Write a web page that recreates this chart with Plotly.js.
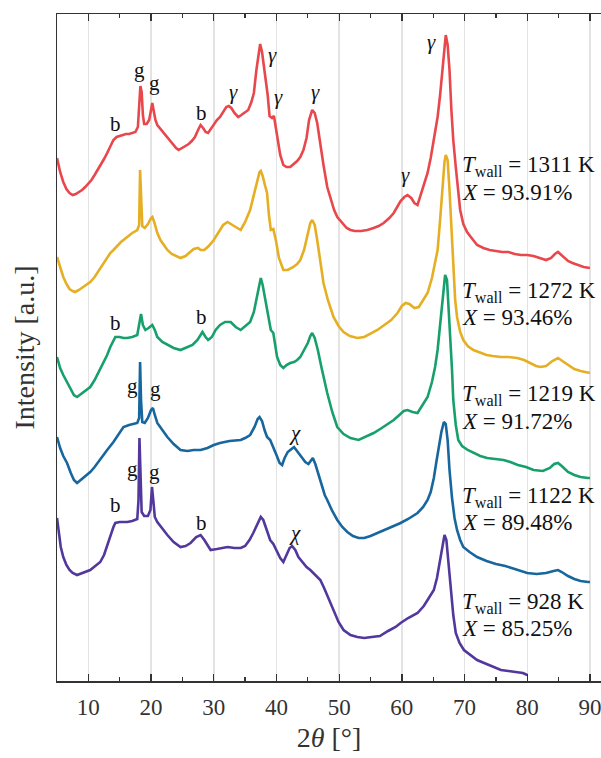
<!DOCTYPE html>
<html>
<head>
<meta charset="utf-8">
<script src="https://cdn.plot.ly/plotly-3.0.1.min.js"></script>
<style>html,body{margin:0;padding:0;background:#fff;}#chart{width:601px;height:758px;}</style>
</head>
<body>
<div id="chart"></div>
<script>
// 2θ positions (degrees) and stacked intensities (a.u., offset as in the figure)
var x1311 = [5,5.5,6,6.5,7,7.5,8,8.5,9,9.5,10,10.5,11,11.5,12,12.5,13,13.5,14,14.5,15,15.5,16,16.5,17,17.5,17.9,18.1,18.3,18.5,18.7,18.9,19.3,19.7,20.0,20.2,20.4,20.7,21,21.5,22,22.5,23,23.5,24,24.4,25,25.5,26,26.5,27,27.5,27.9,28.3,28.7,29.1,29.6,30,30.5,31,31.5,32,32.4,32.8,33.3,33.9,34.4,35,35.5,36,36.4,36.8,37.2,37.4,37.7,38,38.3,38.6,38.9,39.3,39.6,39.9,40.2,40.6,41.1,41.6,42.2,42.8,43.3,43.8,44.3,44.8,45.2,45.7,46.1,46.5,47,47.5,48.1,48.7,49.2,49.7,50.5,51.2,51.8,52.5,53.5,54.5,55.5,56.3,57.1,58,58.7,59.3,59.8,60.4,60.9,61.5,62,62.5,63,63.5,64.1,64.6,65.1,65.7,66.1,66.5,66.8,67,67.3,67.6,67.9,68.2,68.6,69,69.3,69.8,70.4,71,71.4,72,73,74,75,76,77,78,79,80,81,82,83,83.8,84.4,84.9,85.4,86,86.5,87.2,88,89,90];
var y1311 = [523,509,499,492,488,486,487,489,491,494,497,501,506,511,516,522,528,535,541,544,545,546,547,547,548,549,554,576,595,589,566,557,557,561,573,578,571,561,556,552,548,544,540,536,533,531,533,535,537,540,544,551,556,553,549,548,553,557,561,564,569,574,575,573,568,564,566,569,571,579,588,611,631,637,629,616,601,586,565,563,565,553,538,526,516,514,514,517,520,524,531,543,561,571,568,558,536,516,494,481,471,464,458,453,451,450,450,451,453,455,458,463,468,474,480,484,486,483,478,476,486,497,508,523,541,564,586,614,636,646,636,611,571,541,514,486,471,457,449,444,441,436,433,431,430,429,429,427,426,426,425,423,421,423,427,429,426,422,420,418,416,414,413];

var x1272 = [5,5.5,6,6.5,7,7.5,7.9,8.5,9,9.5,10.3,11,11.6,12.4,13,13.5,14,14.6,15.2,16.2,17,17.8,18.1,18.25,18.4,18.6,19,19.5,20,20.2,20.5,21,21.5,22,22.6,23.3,24,24.7,25.5,26.2,26.8,27.5,27.9,28.5,29.2,30,30.8,31.5,32.2,32.8,33.5,34.3,35,35.8,36.4,36.9,37.3,37.5,37.8,38.2,38.5,38.8,39.1,39.5,39.9,40.4,41.1,41.8,42.7,43.3,43.8,44.4,45,45.4,45.7,46.1,46.5,47,47.5,48.2,49.1,49.9,50.7,51.7,52.9,54,55,56.1,57.2,58.3,59.3,60,60.6,61.2,62,62.7,63.4,64.1,64.8,65.3,65.7,66.1,66.5,66.8,67,67.3,67.6,67.9,68.2,68.5,68.8,69.3,69.8,70.5,71.4,72.5,73.5,74.5,75.8,77,78.4,79.5,80.5,81.4,82.1,83,84,84.9,85.6,86.5,87.5,88.5,89.7,90];
var y1272 = [424,413,404,397,392,390,389,391,393,395,399,404,410,418,424,428,431,435,439,444,448,451,456,511,476,455,453,457,463,464,459,448,441,436,431,427,425,423,425,429,432,433,431,431,435,441,449,456,459,457,454,451,459,471,486,501,509,510,505,495,488,466,451,452,441,423,411,411,414,417,421,431,446,458,461,456,441,419,398,381,364,355,349,345,343,344,347,351,356,361,368,375,378,377,373,374,381,388,403,419,431,461,496,519,526,521,491,451,411,381,364,349,341,335,331,328,326,325,324,324,323,321,318,315,314,315,320,323,320,316,312,310,308,308];

var x1219 = [5,5.5,6,6.6,7.2,7.7,8.2,8.8,9.5,10.3,11,11.7,12.4,13,13.5,14,14.3,15,15.6,16.2,17,17.8,18.1,18.4,18.7,19.1,19.6,20.2,20.6,21,21.8,22.6,23.6,24.7,25.6,26.6,27.4,28.2,28.7,29.1,29.7,30.3,31,31.8,32.7,33.5,34.3,35,35.8,36.4,36.9,37.3,37.5,37.8,38.2,38.5,38.8,39.1,39.5,39.8,40.1,40.6,41.1,41.6,42.2,42.8,43.3,43.8,44.4,45,45.4,45.7,46.1,46.6,47.2,47.7,48.1,48.9,49.7,50.7,51.8,53.1,54.2,55.5,56.8,58,58.7,59.6,60.3,60.9,61.7,62.5,63.3,64.1,64.8,65.3,65.7,66.1,66.5,66.9,67.2,67.6,68,68.2,68.6,69,69.6,70.5,71.5,72.5,73.6,75,76.2,77.3,78.5,79.8,81,82.5,83.6,84.3,84.9,85.5,86.5,87.5,88.5,89.7,90];
var y1219 = [324,313,306,299,291,286,284,287,290,294,301,310,318,326,334,341,344,344,343,343,344,346,356,367,356,351,353,356,351,344,339,336,333,331,333,336,341,349,344,341,344,351,356,359,359,354,351,355,359,369,384,399,403,396,381,373,359,351,348,336,324,316,313,316,318,319,321,324,331,338,345,348,343,331,313,299,288,269,254,247,243,241,244,248,253,258,261,266,270,271,269,268,276,284,299,314,331,356,386,406,401,361,311,281,256,241,235,231,228,225,223,222,221,219,216,214,211,210,213,217,218,215,209,206,204,203,203];

var x1122 = [5,5.5,6,6.6,7.2,7.7,8.2,8.8,9.5,10.3,11,12,13,14,14.8,15.6,16.5,17.2,17.8,18.1,18.25,18.4,18.6,19,19.5,20,20.3,20.6,21,21.8,22.6,23.6,24.7,25.8,26.8,27.9,29,30,31,32.5,34.3,35,35.8,36.5,37,37.3,37.7,38.1,38.5,39,39.5,40,40.5,40.9,41.3,41.8,42.2,42.8,43.4,44,44.6,45.1,45.5,45.8,46.2,46.7,47.2,47.7,48.1,48.9,49.7,50.5,51.3,52.2,53.1,54,55,56.1,57.3,58.5,59.8,61,62.5,63.4,64.1,64.6,65.1,65.5,65.9,66.3,66.7,67,67.3,67.6,68,68.4,68.8,69.3,69.8,70.8,72,73.5,75,76.5,78,80,81.5,83,84.2,84.9,85.5,86.5,87.5,88.5,89.7,90];
var y1122 = [244,233,225,218,208,201,198,201,205,209,214,223,231,239,247,254,256,257,258,263,319,281,259,258,263,271,273,266,258,251,244,237,231,230,231,231,233,236,238,240,241,243,246,254,262,264,260,251,244,241,234,226,218,216,223,229,231,234,229,224,219,217,220,223,217,206,195,186,181,170,161,154,149,145,143,143,145,148,151,154,158,162,168,174,181,189,203,219,236,249,259,257,241,211,183,163,151,141,134,129,124,120,117,115,112,108,107,108,110,111,109,105,102,100,99,99];

var x928 = [5,5.3,5.6,6,6.5,7,7.5,8.2,9,9.6,10.3,11.1,11.9,12.5,13,13.5,14,14.3,15,16.2,17,17.8,18.0,18.15,18.3,18.5,18.9,19.5,19.9,20.15,20.35,20.6,21,21.8,22.6,23.6,24.7,25.5,26.3,27.2,27.9,28.5,29.5,30.5,31.4,32.2,33.3,34.3,35,35.7,36.3,37,37.5,37.9,38.4,39,39.5,40,40.6,41.1,41.6,42.1,42.5,43,43.5,44.2,44.8,45.4,46.2,47,47.6,48.3,49.1,49.9,50.7,51.8,52.9,54,55.2,56.5,57.8,59,59.8,61,62.5,63.5,64.3,65.1,65.6,66.1,66.5,66.8,67.1,67.4,67.8,68.2,68.6,69.2,69.9,71,72,73.5,75,75.8,77,78.4,79.3,80];
var y928 = [163,146,134,124,116,111,108,106,108,109,111,115,119,126,136,146,154,158,159,159,160,162,181,243,211,169,165,165,171,194,181,164,159,152,146,139,134,135,138,144,146,141,131,132,133,134,133,133,135,141,148,158,164,161,151,141,137,131,123,119,126,133,135,131,124,118,114,111,106,101,93,83,71,59,51,46,44,43,44,45,50,54,58,63,68,75,83,91,103,121,136,146,141,121,91,66,48,38,31,26,21,17,13,11,10,9,8,6];

var tempLabels = ["1311", "1272", "1219", "1122", "928"];
var convLabels = ["93.91", "93.46", "91.72", "89.48", "85.25"];
var xTicks = [10, 20, 30, 40, 50, 60, 70, 80, 90];
var xMinorTicks = [15, 25, 35, 45, 55, 65, 75, 85];

var seriesX = [x928, x1122, x1219, x1272, x1311];
var seriesY = [y928, y1122, y1219, y1272, y1311];
var colors = ["#52389C", "#17669E", "#17A06B", "#E6AF23", "#E8474C"];
var names = ["928 K", "1122 K", "1219 K", "1272 K", "1311 K"];

var traces = seriesX.map(function (xs, i) {
  return {
    x: xs, y: seriesY[i], type: "scatter", mode: "lines", name: names[i],
    line: {color: colors[i], width: 2.6}, showlegend: false, hoverinfo: "skip"
  };
});

var F = "Liberation Serif";
var ann = [];
function lab(t, x, y, size) {
  ann.push({text: t, x: x, y: y, xref: "x", yref: "y", showarrow: false,
    font: {family: F, size: size || 21, color: "#111"}, xanchor: "center", yanchor: "middle"});
}
// phase markers
lab("b", 14.3, 557); lab("g", 18.1, 611); lab("g", 20.6, 598); lab("b", 28.0, 568);
lab("<i>γ</i>", 33.1, 589); lab("<i>γ</i>", 39.4, 626); lab("<i>γ</i>", 40.4, 584);
lab("<i>γ</i>", 46.2, 589); lab("<i>γ</i>", 60.6, 506); lab("<i>γ</i>", 64.7, 639);
lab("b", 14.3, 358); lab("b", 28.0, 364);
lab("g", 17.0, 295); lab("g", 20.7, 292); lab("<i>χ</i>", 42.9, 248);
lab("b", 14.3, 176); lab("g", 17.0, 212); lab("g", 20.6, 209); lab("b", 28.0, 158); lab("<i>χ</i>", 43.0, 148);

// conditions text
var tY = [515, 389, 286, 184, 78];
var xY = [489, 364, 260, 159, 53];
tempLabels.forEach(function (t, k) {
  ann.push({text: "<i>T</i><sub>wall</sub> = " + t + " K", x: 69.5, y: tY[k], xref: "x", yref: "y",
    showarrow: false, xanchor: "left", yanchor: "middle", borderpad: 0, font: {family: F, size: 23, color: "#111"}});
  ann.push({text: "<i>X</i> = " + convLabels[k] + "%", x: 69.5, y: xY[k], xref: "x", yref: "y",
    showarrow: false, xanchor: "left", yanchor: "middle", borderpad: 0, font: {family: F, size: 23, color: "#111"}});
});

var layout = {
  width: 601, height: 758,
  margin: {l: 57, r: 0, t: 14, b: 77},
  paper_bgcolor: "#fff", plot_bgcolor: "#fff",
  font: {family: F, color: "#222"},
  xaxis: {
    range: [5, 91.76], tickvals: xTicks, ticks: "inside", ticklen: 7, tickwidth: 1.3, tickcolor: "#333",
    showline: true, linecolor: "#333", linewidth: 1.5, mirror: "ticks",
    showgrid: true, gridcolor: "#e3e3e3", gridwidth: 1.5, zeroline: false,
    tickfont: {family: F, size: 23, color: "#333"}, ticklabelstandoff: 5, ticklabeloverflow: "allow",
    minor: {tickvals: xMinorTicks, ticks: "inside", ticklen: 4, tickwidth: 1.3, tickcolor: "#333", showgrid: false},
    title: {text: "2<i>θ</i> [°]", font: {family: F, size: 28, color: "#333"}, standoff: 8}
  },
  yaxis: {
    range: [0, 667], showticklabels: false, ticks: "", showgrid: false, zeroline: false,
    showline: true, linecolor: "#333", linewidth: 1.5, mirror: false,
    title: {text: "Intensity [a.u.]", font: {family: F, size: 28, color: "#333"}, standoff: 12}
  },
  annotations: ann
};

Plotly.newPlot("chart", traces, layout, {displayModeBar: false, staticPlot: true});
</script>
</body>
</html>
